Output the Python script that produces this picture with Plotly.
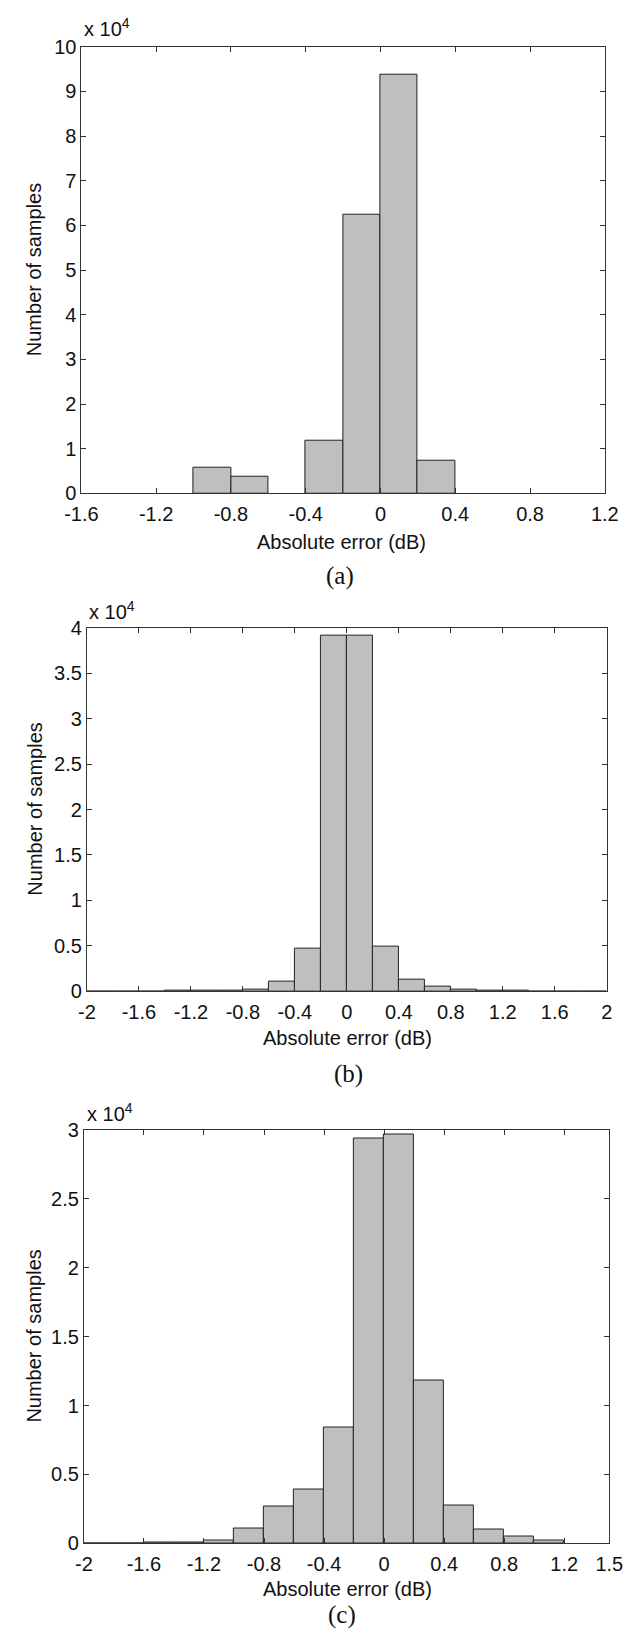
import plotly.graph_objects as go

W, H = 635, 1642

# ---------------- data ----------------
# (a) bin centres and counts
a_centers = [-0.9, -0.7, -0.3, -0.1, 0.1, 0.3]
a_counts = [5800, 3700, 11900, 62300, 93800, 7300]

# (b) bin centres and counts
b_centers = [-1.9, -1.7, -1.5, -1.3, -1.1, -0.9, -0.7, -0.5, -0.3, -0.1,
             0.1, 0.3, 0.5, 0.7, 0.9, 1.1, 1.3, 1.5, 1.7, 1.9]
b_counts = [20, 20, 20, 30, 40, 100, 220, 1080, 4660, 39100,
            39100, 4880, 1300, 520, 220, 60, 30, 20, 20, 20]

# (c) bin centres and counts
c_centers = [-1.9, -1.7, -1.5, -1.3, -1.1, -0.9, -0.7, -0.5, -0.3, -0.1,
             0.1, 0.3, 0.5, 0.7, 0.9, 1.1]
c_counts = [20, 20, 80, 80, 180, 1050, 2700, 3890, 8400, 29380,
            29610, 11800, 2750, 1030, 520, 250]

bin_width = 0.2

# tick values / labels
a_xticks = [-1.6, -1.2, -0.8, -0.4, 0, 0.4, 0.8, 1.2]
a_xlabels = ["-1.6", "-1.2", "-0.8", "-0.4", "0", "0.4", "0.8", "1.2"]
a_yticks = [0, 10000, 20000, 30000, 40000, 50000, 60000, 70000, 80000, 90000, 100000]
a_ylabels = ["0", "1", "2", "3", "4", "5", "6", "7", "8", "9", "10"]

b_xticks = [-2, -1.6, -1.2, -0.8, -0.4, 0, 0.4, 0.8, 1.2, 1.6, 2]
b_xlabels = ["-2", "-1.6", "-1.2", "-0.8", "-0.4", "0", "0.4", "0.8", "1.2", "1.6", "2"]
b_yticks = [0, 5000, 10000, 15000, 20000, 25000, 30000, 35000, 40000]
b_ylabels = ["0", "0.5", "1", "1.5", "2", "2.5", "3", "3.5", "4"]

c_xticks = [-2, -1.6, -1.2, -0.8, -0.4, 0, 0.4, 0.8, 1.2, 1.5]
c_xlabels = ["-2", "-1.6", "-1.2", "-0.8", "-0.4", "0", "0.4", "0.8", "1.2", "1.5"]
c_yticks = [0, 5000, 10000, 15000, 20000, 25000, 30000]
c_ylabels = ["0", "0.5", "1", "1.5", "2", "2.5", "3"]

x_title = "Absolute error (dB)"
y_title = "Number of samples"
exp_text = "x 10<sup>4</sup>"
captions = ["(a)", "(b)", "(c)"]

# ---------------- layout helpers ----------------
def px_x(p):
    return p / W

def px_y(p):
    return 1 - p / H

SANS = "Liberation Sans, Arial, Helvetica, sans-serif"
SERIF = "Liberation Serif, Times New Roman, serif"
FS = 20
TXT = "#111111"
AX = "#333333"
BAR_FILL = "rgb(191,191,191)"
BAR_EDGE = "#222222"

panels = [
    dict(c=a_centers, v=a_counts, xr=[-1.6, 1.2], yr=[0, 100000],
         xt=a_xticks, xl=a_xlabels, yt=a_yticks, yl=a_ylabels,
         left=67.7, right=618.0, top=36.2, bottom=489.0,
         exp=(68, 31), xlab=(341, 538), cap=(340, 573)),
    dict(c=b_centers, v=b_counts, xr=[-2, 2], yr=[0, 40000],
         xt=b_xticks, xl=b_xlabels, yt=b_yticks, yl=b_ylabels,
         left=73.5, right=620.0, top=625.0, bottom=993.7,
         exp=(74, 622), xlab=(347, 1041), cap=(348, 1077)),
    dict(c=c_centers, v=c_counts, xr=[-2, 1.5], yr=[0, 30000],
         xt=c_xticks, xl=c_xlabels, yt=c_yticks, yl=c_ylabels,
         left=70.3, right=622.7, top=1133.7, bottom=1553.3,
         exp=(71, 1131), xlab=(347, 1599), cap=(342, 1626)),
]

fig = go.Figure()
annotations = []
layout_axes = {}

for i, p in enumerate(panels):
    n = "" if i == 0 else str(i + 1)
    xa, ya = "x" + n, "y" + n
    fig.add_trace(go.Bar(
        x=p["c"], y=p["v"], width=bin_width,
        marker=dict(color=BAR_FILL, line=dict(color=BAR_EDGE, width=1)),
        xaxis=xa, yaxis=ya, showlegend=False, hoverinfo="x+y",
    ))
    common = dict(showline=True, linecolor=AX, linewidth=1, mirror="ticks",
                  ticks="inside", ticklen=5, tickcolor=AX, tickwidth=1,
                  showgrid=False, zeroline=False,
                  tickfont=dict(family=SANS, size=FS, color=TXT))
    layout_axes["xaxis" + n] = dict(
        common, domain=[px_x(p["left"]), px_x(p["right"])], range=p["xr"],
        anchor=ya, tickmode="array", tickvals=p["xt"], ticktext=p["xl"],
        ticklabelstandoff=3)
    layout_axes["yaxis" + n] = dict(
        common, domain=[px_y(p["bottom"]), px_y(p["top"])], range=p["yr"],
        anchor=xa, tickmode="array", tickvals=p["yt"], ticktext=p["yl"])

    annotations.append(dict(
        text=exp_text, xref="paper", yref="paper",
        x=px_x(p["exp"][0]), y=px_y(p["exp"][1]),
        xanchor="left", yanchor="bottom", showarrow=False,
        font=dict(family=SANS, size=FS, color=TXT)))
    annotations.append(dict(
        text=x_title, xref="paper", yref="paper",
        x=px_x(p["xlab"][0]), y=px_y(p["xlab"][1]),
        xanchor="center", yanchor="middle", showarrow=False,
        font=dict(family=SANS, size=FS, color=TXT)))
    annotations.append(dict(
        text=y_title, xref="paper", yref="paper", textangle=-90,
        x=px_x(18), y=px_y((p["top"] + p["bottom"]) / 2),
        xanchor="center", yanchor="middle", showarrow=False,
        font=dict(family=SANS, size=FS, color=TXT)))
    annotations.append(dict(
        text=captions[i], xref="paper", yref="paper",
        x=px_x(p["cap"][0]), y=px_y(p["cap"][1]),
        xanchor="center", yanchor="middle", showarrow=False,
        font=dict(family=SERIF, size=25, color=TXT)))

fig.update_layout(
    width=W, height=H,
    margin=dict(l=0, r=0, t=0, b=0),
    paper_bgcolor="white", plot_bgcolor="white",
    bargap=0, showlegend=False,
    annotations=annotations,
    **layout_axes,
)

fig.write_html("out.html")
